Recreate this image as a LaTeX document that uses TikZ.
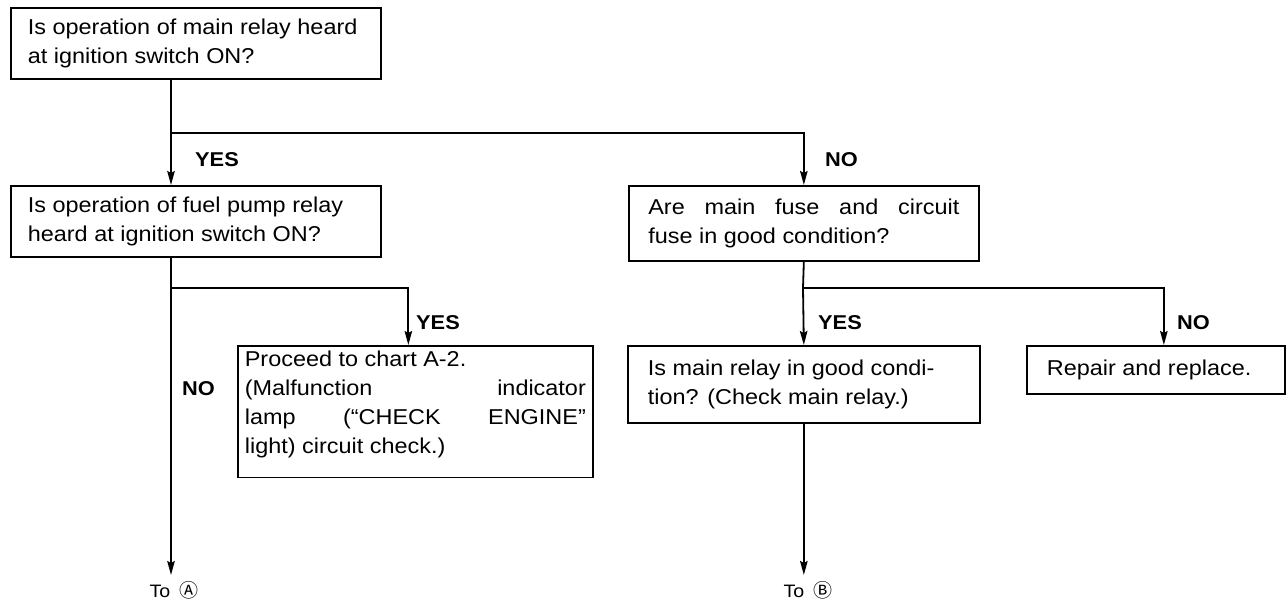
\documentclass[tikz,border=0pt]{standalone}
\usepackage{fontspec}
\setmainfont{Liberation Sans}[FakeStretch=1.09]
\newfontfamily\circfont{Noto Sans CJK JP}
\usetikzlibrary{arrows.meta}

\begin{document}
\begin{tikzpicture}[x=1pt, y=-1pt,
    box/.style={draw=black, line width=1.7pt, anchor=north west,
        inner xsep=19pt, align=flush left, font=\fontsize{21.5}{29}\selectfont},
    flow/.style={line width=1.8pt, -{Stealth[length=14pt, width=7.5pt, inset=2pt]}},
    trunk/.style={line width=1.8pt},
    answer/.style={anchor=west, inner sep=0pt,
        font=\bfseries\fontsize{20}{20}\selectfont},
    target/.style={anchor=north, inner xsep=0pt, inner ysep=6pt,
        font=\fontsize{18}{20}\selectfont}
]
    \useasboundingbox (0,0) rectangle (1286,605);

    % questions and actions
    \node[box, text width=336pt, inner xsep=17pt, minimum height=71pt] (q1) at (10,7)
        {Is operation of main relay heard\\at ignition switch ON?};
    \node[box, text width=336pt, inner xsep=17pt, minimum height=71pt] (q2) at (10,185)
        {Is operation of fuel pump relay\\heard at ignition switch ON?};
    \node[box, text width=311pt, inner xsep=19.5pt, minimum height=75pt] (q3) at (628,185)
        {\makebox[\linewidth][s]{Are main fuse and circuit}\\fuse in good condition?};
    \node[box, text width=341pt, inner xsep=7pt, inner ysep=0pt,
        text height=20.6pt, text depth=111pt] (a2) at (237,345)
        {Proceed to chart A-2.\\
         \makebox[\linewidth][s]{(Malfunction indicator}\\
         \makebox[\linewidth][s]{lamp (``CHECK ENGINE''}\\
         light) circuit check.)};
    \node[box, text width=312pt, inner xsep=20pt, minimum height=77pt] (q4) at (627,345)
        {Is main relay in good condi-\\tion? (Check main relay.)};
    \node[box, text width=218pt, inner xsep=20pt, minimum height=48pt] (fix) at (1026,345)
        {Repair and replace.};

    % exits
    \node[target] (toA) at (174,575) {To\hspace{9pt}{\circfont\fontsize{19}{19}\selectfont Ⓐ}};
    \node[target] (toB) at (808,575) {To\hspace{9pt}{\circfont\fontsize{19}{19}\selectfont Ⓑ}};

    % branch points
    \coordinate (j1) at (171,133);
    \coordinate (j2) at (171,288);
    \coordinate (j3) at (803,288);

    \draw[trunk] (j1 |- q1.south) -- (j1);
    \draw[flow] (j1) -- (j1 |- q2.north);
    \draw[flow] (j1) -| (q3.north);
    \draw[trunk] (j2 |- q2.south) -- (j2);
    \draw[flow] (j2) -- (j2 |- toA.north);
    \draw[flow] (j2) -| ([xshift=-7pt]a2.north);
    \draw[trunk] (q3.south) -- (j3);
    \draw[flow] (j3) -- (q4.north);
    \draw[flow] (j3) -| ([xshift=8pt]fix.north);
    \draw[flow] (q4.south) -- (q4.south |- toB.north);

    % answers
    \node[answer] (yes1) at (195,160) {YES};
    \node[answer] (no1) at (825,160) {NO};
    \node[answer] (yes2) at (416,323) {YES};
    \node[answer] (no2) at (182,389) {NO};
    \node[answer] (yes3) at (818,323) {YES};
    \node[answer] (no3) at (1177,323) {NO};
\end{tikzpicture}
\end{document}
